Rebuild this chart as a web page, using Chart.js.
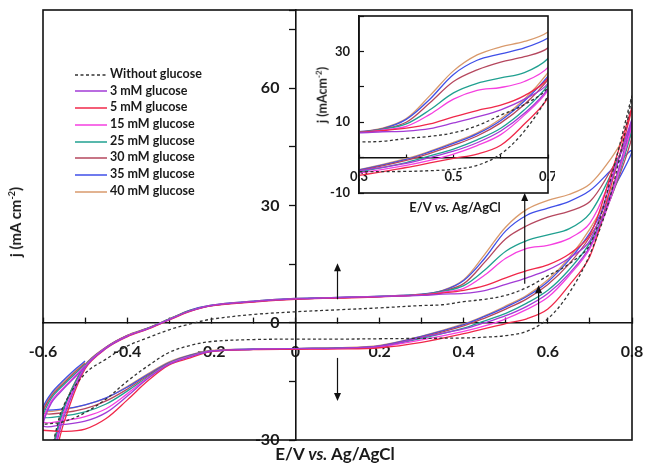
<!DOCTYPE html>
<html>
<head>
<meta charset="utf-8">
<script src="https://cdn.jsdelivr.net/npm/chart.js@4.4.1/dist/chart.umd.min.js"></script>
<style>
  html, body { margin: 0; padding: 0; background: #fff; }
  #wrap { position: relative; width: 647px; height: 466px; font-family: Lato, "Liberation Sans", sans-serif; color: #1a1a1a; }
  #main { position: absolute; left: 0; top: 0; }
  #inset { position: absolute; left: 305px; top: 8px; }
  .ttl { position: absolute; font-weight: bold; white-space: nowrap; line-height: 1; transform: translate(-50%, -50%); }
  .rot { transform: translate(-50%, -50%) rotate(-90deg); }
  #legend { position: absolute; left: 75px; top: 66px; font-weight: bold; font-size: 12.5px; }
  #legend div { height: 16.7px; line-height: 16.7px; white-space: nowrap; }
  #legend svg { vertical-align: middle; margin-right: 3px; }
</style>
</head>
<body>
<div id="wrap">
  <canvas id="main" width="647" height="466"></canvas>
  <canvas id="inset" width="250" height="215"></canvas>
  <div id="legend"></div>
  <div class="ttl" style="left:335px; top:453px; font-size:17px;">E/V <i>vs.</i> Ag/AgCl</div>
  <div class="ttl rot" style="left:15px; top:222px; font-size:15px;">j (mA cm<sup style="font-size:9px">-2</sup>)</div>
  <div class="ttl" style="left:455px; top:207px; font-size:13px;">E/V <i>vs.</i> Ag/AgCl</div>
  <div class="ttl rot" style="left:322px; top:95px; font-size:12.5px;">j (mAcm<sup style="font-size:8px">-2</sup>)</div>
</div>
<script>
// ---- potential grid (V vs Ag/AgCl): forward scan, reverse scan, start of next scan ----
const potentialAnodic = [-0.585, -0.57, -0.55, -0.5, -0.45, -0.4, -0.35, -0.3, -0.25, -0.2, -0.1, 0, 0.1, 0.2, 0.3, 0.35, 0.4, 0.45, 0.5, 0.55, 0.6, 0.65, 0.7, 0.75, 0.8];
const potentialCathodic = [0.75, 0.7, 0.65, 0.6, 0.55, 0.5, 0.45, 0.4, 0.3, 0.2, 0.1, 0, -0.1, -0.2, -0.25, -0.3, -0.35, -0.4, -0.45, -0.5, -0.55, -0.6];
const potentialRestart = [-0.58, -0.55, -0.52, -0.5];
const potential = [...potentialAnodic, ...potentialCathodic, ...potentialRestart];

const seriesLabels = ['Without glucose', '3 mM glucose', '5 mM glucose', '15 mM glucose', '25 mM glucose', '30 mM glucose', '35 mM glucose', '40 mM glucose'];

// ---- current density j (mA cm-2) ----
const jBlank = [
  -36, -28, -21, -13, -9.3, -6, -3.8, -1.8, -0.3, 0.9, 2.1, 2.8, 3.3, 3.8, 4.4, 4.6, 5.4, 6, 7, 9, 12, 15, 20, 37, 58,
  33, 17.5, 7.5, 1, -2.2, -3.3, -3.7, -3.9, -4, -4.1, -4.2, -4.2, -4.3, -4.8, -5.8, -7.6, -11, -15, -19.5, -23, -25.3, -26,
  null, null, null, null];
const j3 = [
  -39, -32, -24, -11.5, -6.5, -3.5, -1.5, 0.8, 3, 4.4, 5.4, 6.1, 6.4, 6.7, 7, 7.3, 7.5, 8.2, 9.8, 11.5, 13.5, 16.5, 21, 36, 52,
  33, 19.5, 12.5, 7.5, 4.2, 1.8, 0, -1.6, -3.8, -6, -6.5, -6.6, -6.8, -7.3, -8.7, -10.6, -14.2, -18.8, -23, -25.2, -26, -26.3,
  -20.5, -16.8, -13.5, -11.2];
const j5 = [
  -42, -34, -25.5, -11.8, -6.6, -3.6, -1.6, 0.7, 2.9, 4.3, 5.3, 6, 6.3, 6.6, 7.1, 7.6, 8.3, 9.5, 11.5, 13.3, 14.8, 17.5, 22.5, 38, 55,
  35, 17, 9.5, 3.5, 1, -0.2, -1.5, -2.8, -5, -6.4, -6.7, -6.8, -6.9, -7.4, -9, -10.8, -14.8, -19.8, -24.5, -27.2, -27.8, -27.5,
  null, null, null, null];
const j15 = [
  -38, -31, -23, -11.3, -6.4, -3.4, -1.5, 0.8, 3, 4.4, 5.4, 6.1, 6.4, 6.7, 7.1, 7.8, 8.8, 12.2, 16.5, 19, 19.8, 21.5, 25.5, 37, 51,
  32, 19, 12, 6.5, 3.4, 1, -0.8, -2.2, -4.4, -6.2, -6.6, -6.7, -6.8, -7.3, -8.6, -10.5, -14, -18.2, -22, -24, -25, -25.3,
  -20, -16.5, -13.2, -11];
const j25 = [
  -36, -29, -21.5, -11, -6.4, -3.4, -1.4, 0.9, 3.1, 4.4, 5.4, 6.1, 6.4, 6.7, 7.2, 8, 9.5, 13.5, 18.3, 21, 22.5, 24, 28, 38, 50,
  32, 20.5, 13.5, 8.3, 5, 2.4, 0.5, -1.4, -4, -6.1, -6.5, -6.6, -6.8, -7.3, -8.5, -10.4, -13.8, -17.5, -20.8, -22.8, -23.8, -24,
  -19.3, -15.8, -12.7, -10.7];
const j30 = [
  -36, -29, -21.5, -10.9, -6.3, -3.3, -1.4, 0.9, 3.1, 4.4, 5.4, 6.1, 6.4, 6.7, 7.2, 8.1, 10, 15.5, 21.5, 24.8, 27, 28.5, 31, 39, 48,
  32, 22, 15, 9.8, 6.1, 3.5, 1.2, -0.8, -3.7, -6, -6.5, -6.6, -6.8, -7.2, -8.4, -10.3, -13.5, -17, -20, -22, -23, -23,
  -18.8, -15.4, -12.3, -10.4];
const j35 = [
  -37, -30, -22, -11, -6.3, -3.3, -1.4, 0.9, 3.2, 4.5, 5.5, 6.2, 6.5, 6.8, 7.3, 8.2, 10.8, 16.5, 23.5, 27.5, 29.3, 31, 33.8, 39, 44,
  33, 23, 16, 10.5, 6.7, 4, 1.6, -0.5, -3.5, -5.9, -6.5, -6.6, -6.7, -7.2, -8.3, -10.2, -13.2, -16.5, -19.2, -21, -22, -22,
  -18, -14.6, -11.6, -9.8];
const j40 = [
  -36, -29, -21.5, -10.8, -6.2, -3.2, -1.3, 1, 3.2, 4.5, 5.5, 6.2, 6.5, 6.8, 7.3, 8.3, 11, 17.5, 24.5, 29, 31.3, 32.8, 35.5, 42, 50,
  34, 24, 16.5, 11, 7, 4.3, 1.8, -0.3, -3.4, -5.8, -6.4, -6.6, -6.7, -7.1, -8.2, -10, -13, -16.3, -19.3, -21, -22.2, -22.5,
  -18.3, -15, -12, -10.2];
const seriesValues = [jBlank, j3, j5, j15, j25, j30, j35, j40];

// arrows drawn on the main plot (potential, j from, j to)
const arrowPotential = [0.1, 0.1, 0.545, 0.578];
const arrowFrom = [6, -9, 10, 0.2];
const arrowTo = [15.2, -20, 33.2, 9.6];

const seriesColors = ['#333333', '#a23bd6', '#f0284a', '#f53fe0', '#20a090', '#b5475e', '#3f4fe8', '#d99a6c'];
const FONT = 'Lato, "Liberation Sans", sans-serif';
const INK = '#1a1a1a';

function makeDatasets() {
  return seriesValues.map((vals, k) => ({
    label: seriesLabels[k],
    data: potential.map((e, i) => ({ x: e, y: vals[i] })),
    borderColor: seriesColors[k],
    borderWidth: 1.3,
    borderDash: k === 0 ? [3, 2.5] : [],
    pointRadius: 0,
    tension: 0.35,
    showLine: true,
    fill: false
  }));
}

// axes take no room, the plot box comes from layout padding
function flatten(scale) {
  if (scale.isHorizontal()) scale.height = 0; else scale.width = 0;
  scale.paddingLeft = scale.paddingRight = scale.paddingTop = scale.paddingBottom = 0;
}
// inset y axis keeps a fixed strip so its labels are not clipped away
function insetYFit(scale) {
  scale.width = 54;
  scale.paddingTop = scale.paddingBottom = 0;
}

const framePlugin = {
  id: 'frame',
  afterDraw(chart) {
    const { ctx, chartArea: a } = chart;
    ctx.save();
    ctx.strokeStyle = '#111';
    ctx.lineWidth = 1.6;
    ctx.strokeRect(a.left, a.top, a.right - a.left, a.bottom - a.top);
    ctx.restore();
  }
};

const arrowPlugin = {
  id: 'arrows',
  afterDatasetsDraw(chart) {
    const { ctx, scales: { x, y } } = chart;
    ctx.save();
    ctx.strokeStyle = '#111';
    ctx.fillStyle = '#111';
    ctx.lineWidth = 1.2;
    arrowPotential.forEach((e, i) => {
      const px = x.getPixelForValue(e);
      const y0 = y.getPixelForValue(arrowFrom[i]);
      const y1 = y.getPixelForValue(arrowTo[i]);
      const dir = y1 < y0 ? 1 : -1;
      ctx.beginPath();
      ctx.moveTo(px, y0);
      ctx.lineTo(px, y1 + dir * 7);
      ctx.stroke();
      ctx.beginPath();
      ctx.moveTo(px, y1);
      ctx.lineTo(px - 3.5, y1 + dir * 8);
      ctx.lineTo(px + 3.5, y1 + dir * 8);
      ctx.closePath();
      ctx.fill();
    });
    ctx.restore();
  }
};

const fmtE = v => Math.abs(v) < 1e-9 ? '0' : v.toFixed(1);

new Chart(document.getElementById('main'), {
  type: 'scatter',
  data: { datasets: makeDatasets() },
  options: {
    responsive: false, animation: false, devicePixelRatio: 1,
    layout: { padding: { left: 43, right: 15, top: 10, bottom: 26 } },
    plugins: { legend: { display: false }, tooltip: { enabled: false } },
    scales: {
      x: {
        type: 'linear', min: -0.6, max: 0.8, position: { y: 0 }, afterFit: flatten,
        ticks: { stepSize: 0.1, autoSkip: false, maxRotation: 0, padding: 26, color: INK,
          font: { family: FONT, weight: 'bold', size: 16 },
          callback: v => Math.round(v * 10) % 2 === 0 ? fmtE(v) : '' },
        grid: { drawOnChartArea: false, tickLength: -6, tickColor: '#111', tickWidth: 1.3 },
        border: { color: '#111', width: 1.6 }
      },
      y: {
        type: 'linear', min: -30, max: 80, position: { x: 0 }, afterFit: flatten,
        ticks: { stepSize: 15, autoSkip: false, padding: 4, color: INK,
          font: { family: FONT, weight: 'bold', size: 16 },
          callback: v => v % 30 === 0 ? v + '\u2002\u2002' : '' },
        grid: { drawOnChartArea: false, tickLength: 6, tickColor: '#111', tickWidth: 1.3 },
        border: { color: '#111', width: 1.6 }
      }
    }
  },
  plugins: [framePlugin, arrowPlugin]
});

new Chart(document.getElementById('inset'), {
  type: 'scatter',
  data: { datasets: makeDatasets() },
  options: {
    responsive: false, animation: false, devicePixelRatio: 1,
    layout: { padding: { left: 0, right: 7, top: 8, bottom: 30 } },
    plugins: { legend: { display: false }, tooltip: { enabled: false } },
    scales: {
      x: {
        type: 'linear', min: 0.3, max: 0.7, position: { y: 0 }, afterFit: flatten,
        ticks: { stepSize: 0.1, autoSkip: false, maxRotation: 0, padding: 15, color: INK,
          font: { family: FONT, weight: 'bold', size: 13 },
          callback: v => Math.round(v * 10) % 2 === 1 ? v.toFixed(1) : '' },
        grid: { drawOnChartArea: false, tickLength: -4, tickColor: '#111', tickWidth: 1.2 },
        border: { color: '#111', width: 1.5 }
      },
      y: {
        type: 'linear', min: -10, max: 40, position: 'left', afterFit: insetYFit,
        ticks: { stepSize: 10, autoSkip: false, padding: 14, color: INK,
          font: { family: FONT, weight: 'bold', size: 13 },
          callback: v => (v + 10) % 20 === 0 ? String(v) : '' },
        grid: { drawOnChartArea: false, tickLength: -5, tickColor: '#111', tickWidth: 1.2 },
        border: { color: '#111', width: 1.5 }
      }
    }
  },
  plugins: [framePlugin]
});

// legend built from the same series arrays
const legend = document.getElementById('legend');
seriesLabels.forEach((name, k) => {
  const row = document.createElement('div');
  const dash = k === 0 ? ' stroke-dasharray="3 2.5"' : '';
  row.innerHTML = '<svg width="32" height="6"><line x1="0" y1="3" x2="32" y2="3" stroke="' + seriesColors[k] +
    '" stroke-width="1.5"' + dash + '/></svg>' + name;
  legend.appendChild(row);
});
</script>
</body>
</html>
